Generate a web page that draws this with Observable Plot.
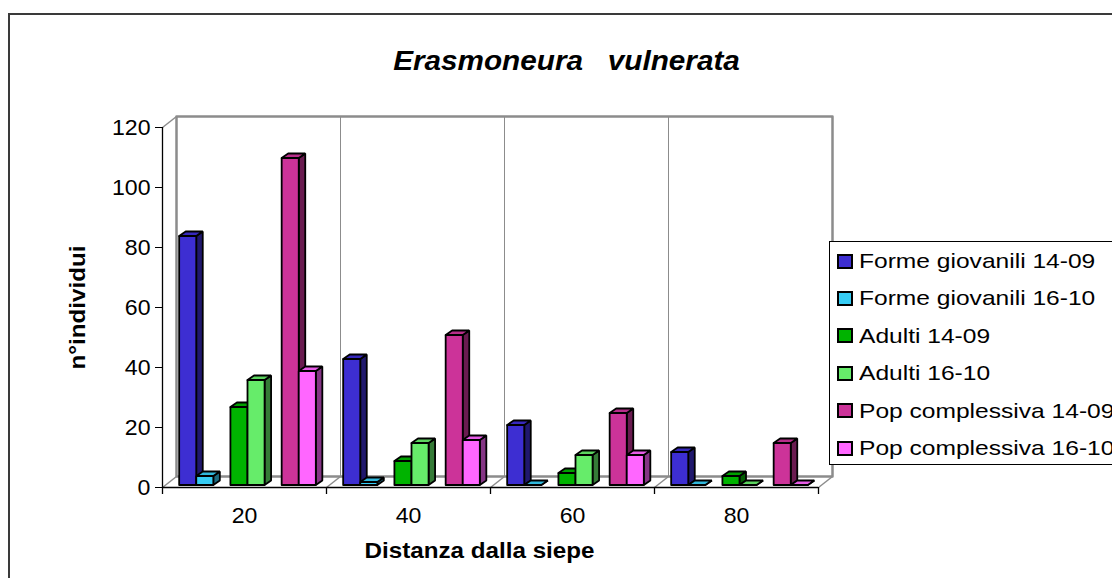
<!DOCTYPE html>
<html>
<head>
<meta charset="utf-8">
<script src="https://cdn.jsdelivr.net/npm/d3@7"></script>
<script src="https://cdn.jsdelivr.net/npm/@observablehq/plot@0.6"></script>
<style>
  body { margin: 0; background: #fff; font-family: "Liberation Sans", Arial, sans-serif; overflow: hidden; }
  #wrap { position: relative; width: 1112px; height: 578px; overflow: hidden; background: #fff; }
  #wrap svg { position: absolute; left: 0; top: 0; }
  #wrap svg text { white-space: pre; }
  #border { position: absolute; left: 8px; top: 13px; width: 1200px; height: 700px; border: 2px solid #3a3a3a; box-sizing: border-box; pointer-events: none; }
  #legend { position: absolute; left: 829px; top: 241px; width: 330px; height: 224px; border: 1px solid #000; background: #fff; box-sizing: border-box; }
  .item { position: absolute; left: 7px; height: 22px; display: flex; align-items: center; white-space: nowrap; }
  .sw { width: 16px; height: 15px; border: 2px solid #000; box-sizing: border-box; margin-right: 6px; flex: none; }
  .lab { font-size: 21px; display: inline-block; transform: scaleX(1.17); transform-origin: left center; color: #000; }
</style>
</head>
<body>
<div id="wrap"><div id="border"></div><div id="legend"></div></div>
<script>
// Categories (distance from the hedge) and the six series
const distances = ["20", "40", "60", "80"];
const seriesNames = [
  "Forme giovanili 14-09",
  "Forme giovanili 16-10",
  "Adulti 14-09",
  "Adulti 16-10",
  "Pop complessiva 14-09",
  "Pop complessiva 16-10"
];
const formeGiovanili1409 = [83, 42, 20, 11];
const formeGiovanili1610 = [3, 1, 0, 0];
const adulti1409 = [26, 8, 4, 3];
const adulti1610 = [35, 14, 10, 0];
const popComplessiva1409 = [109, 50, 24, 14];
const popComplessiva1610 = [38, 15, 10, 0];
const seriesColors = ["#3d2ed2", "#36ccf4", "#00b300", "#66ec6a", "#cc3399", "#ff66ff"];
const yTicks = [0, 20, 40, 60, 80, 100, 120];

const seriesValues = [formeGiovanili1409, formeGiovanili1610, adulti1409, adulti1610, popComplessiva1409, popComplessiva1610];

// Frame geometry
const W = 1112, H = 578;
const X0 = 162, X1 = 818, Y0 = 487, Y1 = 127;
const SLOTS = 9.6;                       // bar-width slots per category
const xMax = distances.length * SLOTS;
const yMax = 120;
const ux = xMax / (X1 - X0);             // x units per pixel
const uy = yMax / (Y0 - Y1);             // y units per pixel
const wallD = [14 * ux, 11 * uy];        // depth of the back wall
const barShift = [3 * ux, 2.5 * uy];     // bars stand slightly behind the front edge
const barD = [6.5 * ux, 4.5 * uy];       // depth of each column

const shade = (c, k) => { const r = d3.rgb(c); return d3.rgb(r.r * k, r.g * k, r.b * k).formatHex(); };

// Build the faces of every 3D column
const bars = [];
distances.forEach((_, c) => seriesValues.forEach((vals, s) => {
  const x1 = c * SLOTS + 0.8 + Math.floor(s / 2) * 3 + (s % 2) + barShift[0];
  bars.push({ s, c, v: vals[c], x1, x2: x1 + 1, y0: barShift[1], y1: vals[c] + barShift[1] });
}));
const poly = (face, getPts, getFill) => bars.flatMap((b, i) => {
  const pts = getPts(b);
  pts.push(pts[0]);
  return pts.map(([x, y]) => ({ id: face + i, x, y, fill: getFill(b) }));
});
const sides = poly("side", b => [[b.x2, b.y0], [b.x2 + barD[0], b.y0 + barD[1]], [b.x2 + barD[0], b.y1 + barD[1]], [b.x2, b.y1]], b => shade(seriesColors[b.s], 0.52));
const tops = poly("top", b => [[b.x1, b.y1], [b.x2, b.y1], [b.x2 + barD[0], b.y1 + barD[1]], [b.x1 + barD[0], b.y1 + barD[1]]], b => shade(seriesColors[b.s], 0.9));
const fronts = poly("front", b => [[b.x1, b.y0], [b.x2, b.y0], [b.x2, b.y1], [b.x1, b.y1]], b => seriesColors[b.s]);

const bounds = d3.range(distances.length + 1).map(i => i * SLOTS);
const backWall = [[0, 0], [xMax, 0], [xMax, yMax], [0, yMax], [0, 0]].map(([x, y]) => ({ x: x + wallD[0], y: y + wallD[1] }));

const faceOpts = { x: "x", y: "y", z: "id", fill: "fill", stroke: "#000", strokeWidth: 1.8, strokeLinejoin: "miter" };

const chart = Plot.plot({
  width: W, height: H,
  marginLeft: X0, marginRight: W - X1, marginTop: Y1, marginBottom: H - Y0,
  x: { domain: [0, xMax], range: [X0, X1], axis: null },
  y: { domain: [0, yMax], range: [Y0, Y1], axis: null },
  color: { type: "identity" },
  style: { fontFamily: "Liberation Sans, Arial, sans-serif", fontSize: "22px", color: "#000", background: "transparent", overflow: "visible" },
  marks: [
    // back wall, grid separators and floor
    Plot.line(backWall, { x: "x", y: "y", stroke: "#8c8c8c", strokeWidth: 2.5 }),
    Plot.ruleX(bounds.slice(1, -1), { x: d => d + wallD[0], y1: wallD[1], y2: yMax + wallD[1], stroke: "#8c8c8c", strokeWidth: 1 }),
    Plot.link(bounds, { x1: d => d, y1: 0, x2: d => d + wallD[0], y2: wallD[1], stroke: "#8c8c8c", strokeWidth: 1.5 }),
    Plot.link([0], { x1: 0, y1: yMax, x2: wallD[0], y2: yMax + wallD[1], stroke: "#8c8c8c", strokeWidth: 1.5 }),
    // 3D columns
    Plot.line(sides, faceOpts),
    Plot.line(tops, faceOpts),
    Plot.line(fronts, faceOpts),
    // axes
    Plot.ruleX([0], { y1: 0, y2: yMax, stroke: "#000", strokeWidth: 1.3 }),
    Plot.ruleY([0], { x1: 0, x2: xMax, stroke: "#000", strokeWidth: 1.3 }),
    Plot.axisY({ ticks: yTicks, tickSize: 7, tickPadding: 5, label: null, tickFormat: d => String(d), fontSize: 22 }),
    Plot.ruleX(bounds, { y1: 0, y2: -7 * uy, stroke: "#000", strokeWidth: 1.3 }),
    Plot.text(distances, { x: (d, i) => i * SLOTS + SLOTS / 2, y: 0, dy: 28, text: d => d, fontSize: 22 }),
    // titles
    Plot.text(["Erasmoneura   vulnerata"], { frameAnchor: "top", dx: 76, dy: -77, text: d => d, fontSize: 27, fontWeight: "bold", fontStyle: "italic" }),
    Plot.text(["n°individui"], { frameAnchor: "left", textAnchor: "middle", dx: -85, rotate: -90, text: d => d, fontSize: 22, fontWeight: "bold" }),
    Plot.text(["Distanza dalla siepe"], { frameAnchor: "bottom", dx: -11, dy: 70, text: d => d, fontSize: 22, fontWeight: "bold" })
  ]
});

const wrap = document.getElementById("wrap");
wrap.insertBefore(chart, wrap.firstChild);

// Slightly widen the lettering, as in the original chart's typeface rendering
chart.querySelectorAll("text").forEach(t => {
  const L = t.getComputedTextLength();
  const bold = (t.getAttribute("font-weight") || (t.parentNode.getAttribute && t.parentNode.getAttribute("font-weight"))) === "bold";
  const k = bold ? 1.1 : 1.05;
  if (L > 0) { t.setAttribute("textLength", (L * k).toFixed(1)); t.setAttribute("lengthAdjust", "spacingAndGlyphs"); }
});

// Legend
const legend = document.getElementById("legend");
seriesNames.forEach((name, i) => {
  const item = document.createElement("div");
  item.className = "item";
  item.style.top = (8 + i * 37.4) + "px";
  const sw = document.createElement("span");
  sw.className = "sw";
  sw.style.background = seriesColors[i];
  const lab = document.createElement("span");
  lab.className = "lab";
  lab.textContent = name;
  item.append(sw, lab);
  legend.append(item);
});
</script>
</body>
</html>
